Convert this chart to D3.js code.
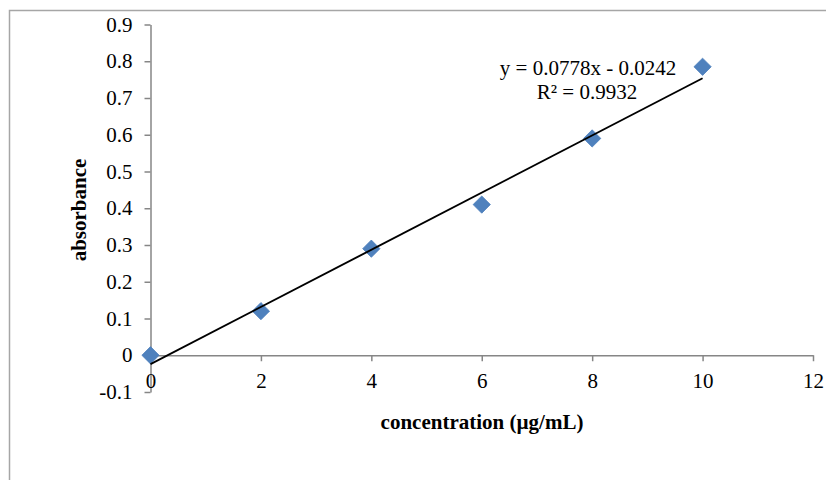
<!DOCTYPE html>
<html>
<head>
<meta charset="utf-8">
<script src="https://cdn.jsdelivr.net/npm/d3@7"></script>
<style>
  html, body { margin: 0; padding: 0; background: #fff; }
  svg { display: block; }
  text { font-family: "Liberation Serif", "Times New Roman", serif; fill: #000; }
</style>
</head>
<body>
<svg id="chart" width="826" height="480"></svg>
<script>
// Data
const concentrations = [0, 2, 4, 6, 8, 10];
const absorbances = [0.0, 0.12, 0.29, 0.41, 0.59, 0.785];
const xTicks = [0, 2, 4, 6, 8, 10, 12];
const yTicks = [-0.1, 0, 0.1, 0.2, 0.3, 0.4, 0.5, 0.6, 0.7, 0.8, 0.9];
const yTickLabels = ["-0.1", "0", "0.1", "0.2", "0.3", "0.4", "0.5", "0.6", "0.7", "0.8", "0.9"];
const slope = 0.0778;
const intercept = -0.0242;
const equationText = "y = 0.0778x - 0.0242";
const r2Text = "R² = 0.9932";
const xTitle = "concentration (µg/mL)";
const yTitle = "absorbance";

const svg = d3.select("#chart");

// outer chart border
svg.append("rect")
  .attr("x", 9.5).attr("y", 10.5)
  .attr("width", 900).attr("height", 600)
  .attr("fill", "none").attr("stroke", "#a6a6a6").attr("stroke-width", 1.5);

const x = d3.scaleLinear().domain([0, 12]).range([150.5, 813]);
const y = d3.scaleLinear().domain([-0.1, 0.9]).range([392, 24.5]);

const axisColor = "#868686";
const fs = "21px";

// Y axis
const yAxis = svg.append("g").attr("transform", `translate(${x(0)},0)`)
  .call(d3.axisLeft(y).tickValues(yTicks).tickSize(6).tickSizeOuter(0)
    .tickFormat((d, i) => yTickLabels[i]).tickPadding(12));
yAxis.select(".domain").attr("stroke", axisColor).attr("stroke-width", 1.5);
yAxis.selectAll(".tick line").attr("stroke", axisColor).attr("stroke-width", 1.5);
yAxis.selectAll(".tick text").style("font-size", fs).attr("fill", "#000")
  .style("font-family", "Liberation Serif, serif");

// X axis at y=0
const xAxis = svg.append("g").attr("transform", `translate(0,${y(0)})`)
  .call(d3.axisBottom(x).tickValues(xTicks).tickSize(6).tickSizeOuter(0).tickPadding(12));
xAxis.select(".domain").attr("stroke", axisColor).attr("stroke-width", 1.5);
xAxis.selectAll(".tick line").attr("stroke", axisColor).attr("stroke-width", 1.5);
xAxis.selectAll(".tick text").style("font-size", fs).attr("fill", "#000")
  .style("font-family", "Liberation Serif, serif");

// markers
const data = concentrations.map((c, i) => ({c, a: absorbances[i]}));
svg.append("g").selectAll("path")
  .data(data).join("path")
  .attr("transform", d => `translate(${x(d.c)},${y(d.a)})`)
  .attr("d", d3.symbol().type(d3.symbolDiamond2).size(190))
  .attr("fill", "#4f81bd").attr("stroke", "#4a7ebb").attr("stroke-width", 0.8);

// trendline
svg.append("line")
  .attr("x1", x(0)).attr("y1", y(intercept))
  .attr("x2", x(10)).attr("y2", y(slope * 10 + intercept))
  .attr("stroke", "#000").attr("stroke-width", 1.9);

// equation label
svg.append("text").attr("x", 588).attr("y", 75).attr("text-anchor", "middle")
  .style("font-size", fs).text(equationText);
svg.append("text").attr("x", 587).attr("y", 99).attr("text-anchor", "middle")
  .style("font-size", fs).text(r2Text);

// axis titles
svg.append("text").attr("x", 482).attr("y", 429).attr("text-anchor", "middle")
  .style("font-size", fs).style("font-weight", "bold").text(xTitle);
svg.append("text").attr("transform", "translate(86,210) rotate(-90)")
  .attr("text-anchor", "middle")
  .style("font-size", fs).style("font-weight", "bold").text(yTitle);
</script>
</body>
</html>
